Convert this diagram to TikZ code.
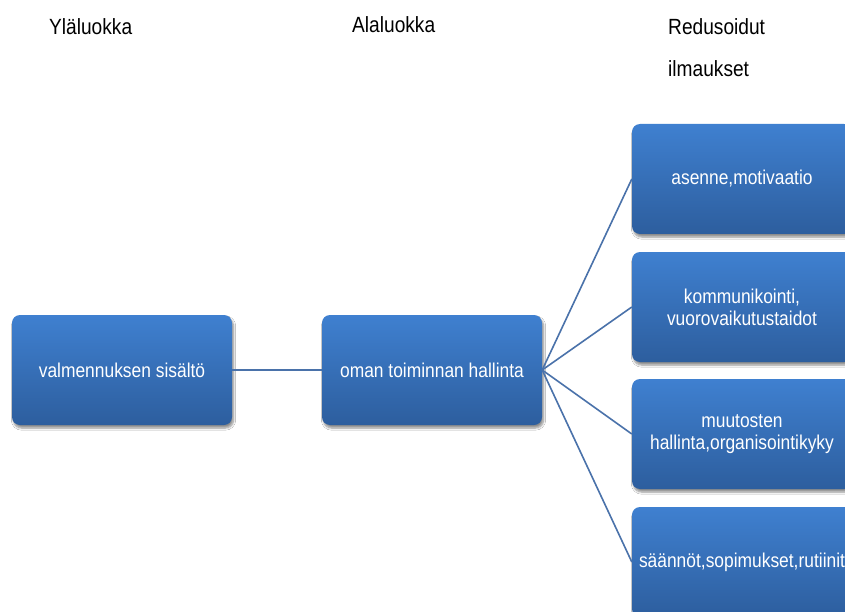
\documentclass[tikz,border=0pt]{standalone}
\usepackage{fontspec}
\setmainfont{Liberation Sans}[FakeStretch=0.87]
\usetikzlibrary{shadows.blur}
\definecolor{boxtop}{HTML}{3F80D0}
\definecolor{boxbot}{HTML}{2D5E9E}
\definecolor{linkc}{HTML}{4A72AA}
\tikzset{
  box/.style={rectangle, rounded corners=8pt, minimum width=220pt, minimum height=110pt,
    top color=boxtop, bottom color=boxbot, draw=none, text=white, align=center,
    font=\fontsize{20}{22}\selectfont,
    blur shadow={shadow xshift=1.5pt, shadow yshift=-3pt, shadow blur steps=6, shadow opacity=45}},
  hdr/.style={anchor=base west, inner sep=0pt, font=\fontsize{22}{24}\selectfont, text=black},
  link/.style={draw=linkc, line width=1.6pt}
}
\begin{document}
\begin{tikzpicture}[x=1pt,y=-1pt]
\clip (0,0) rectangle (845,612);
\fill[white] (0,0) rectangle (845,612);
\node[hdr] (h1) at (49,35) {Yläluokka};
\node[hdr] (h2) at (352,33) {Alaluokka};
\node[hdr] (h3) at (668,35) {Redusoidut};
\node[hdr] (h4) at (668,77) {ilmaukset};
\node[box] (a) at (122,370) {valmennuksen sisältö};
\node[box] (b) at (432,370) {oman toiminnan hallinta};
\node[box] (r1) at (742,179) {asenne,motivaatio};
\node[box] (r2) at (742,307) {kommunikointi,\\vuorovaikutustaidot};
\node[box] (r3) at (742,434) {muutosten\\hallinta,organisointikyky};
\node[box] (r4) at (742,562) {säännöt,sopimukset,rutiinit};
\draw[link] (a.east) -- (b.west);
\draw[link] (b.east) -- (r1.west);
\draw[link] (b.east) -- (r2.west);
\draw[link] (b.east) -- (r3.west);
\draw[link] (b.east) -- (r4.west);
\end{tikzpicture}
\end{document}
